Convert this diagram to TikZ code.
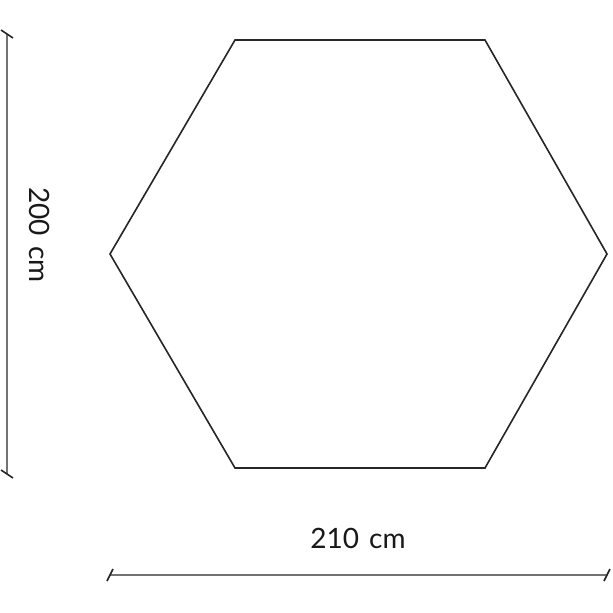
\documentclass[tikz,border=0pt]{standalone}
\usepackage{fontspec}
\setmainfont{Lato}
\usetikzlibrary{positioning}

\tikzset{
	hexline/.style={draw=black!85, line width=1.6pt, line join=miter},
	dimline/.style={draw=black!55, line width=1.2pt},
	dimtick/.style={draw=black!85, line width=1.6pt},
	dimlabel/.style={font=\fontsize{28}{32}\selectfont, text=black!90, inner sep=0pt}
}

\begin{document}
\begin{tikzpicture}[x=1pt, y=-1pt]
	\useasboundingbox[fill=white] (0,0) rectangle (613,613);

	% hexagon corners
	\coordinate (h1) at (235,40);
	\coordinate (h2) at (485,40);
	\coordinate (h3) at (607,254);
	\coordinate (h4) at (485,468);
	\coordinate (h5) at (235,468);
	\coordinate (h6) at (110,254);
	\draw[hexline] (h1) -- (h2) -- (h3) -- (h4) -- (h5) -- (h6) -- cycle;

	% height
	\coordinate (v1) at (7,34);
	\coordinate (v2) at (7,474);
	\draw[dimline] (v1) -- (v2);
	\draw[dimtick] ([shift={(-6,-4)}]v1) -- ([shift={(6,4)}]v1);
	\draw[dimtick] ([shift={(-6,-4)}]v2) -- ([shift={(6,4)}]v2);
	\node[dimlabel, rotate=-90] (hlabel) at (40,235) {200\hspace{0.1em} cm};

	% width
	\coordinate (w1) at (110,575);
	\coordinate (w2) at (607,575);
	\draw[dimline] (w1) -- (w2);
	\draw[dimtick] ([shift={(-3,6)}]w1) -- ([shift={(3,-6)}]w1);
	\draw[dimtick] ([shift={(-3,6)}]w2) -- ([shift={(3,-6)}]w2);
	\node[dimlabel] (wlabel) at (358,538) {210\hspace{0.1em} cm};
\end{tikzpicture}
\end{document}
